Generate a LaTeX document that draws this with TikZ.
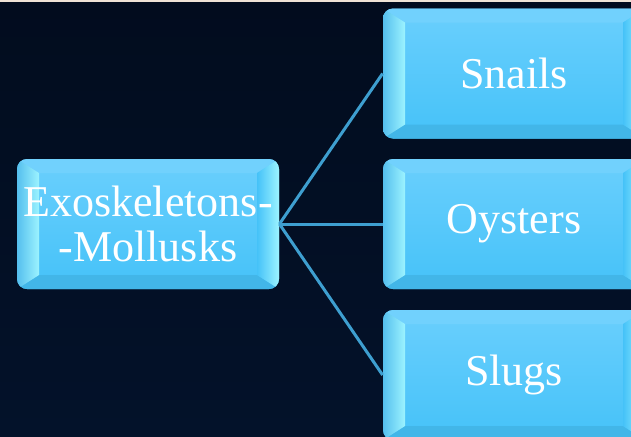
\documentclass[tikz,border=0pt]{standalone}
\usepackage{fontspec}
\setmainfont{Liberation Serif}
\usetikzlibrary{calc}
\definecolor{bgtop}{HTML}{020C1E}
\definecolor{bgbot}{HTML}{03122A}
\definecolor{topstrip}{HTML}{EFE3D6}
\definecolor{facetop}{HTML}{6ACFFD}
\definecolor{facebot}{HTML}{45C2F8}
\definecolor{rimblue}{HTML}{55BFEE}
\definecolor{bevelhi}{HTML}{9CF3FF}
\definecolor{bevellow}{HTML}{42B6E8}
\definecolor{linkblue}{HTML}{3E9FD0}
\tikzset{
  bevelbox/.style={rounded corners=5pt,minimum width=131pt,minimum height=65pt,
    inner sep=0pt,top color=facetop,bottom color=facebot,text=white,
    font=\fontsize{22}{22.5}\selectfont,align=center,
    path picture={
      \path (path picture bounding box.north west) coordinate (pnw)
            (path picture bounding box.north east) coordinate (pne)
            (path picture bounding box.south west) coordinate (psw)
            (path picture bounding box.south east) coordinate (pse);
      \fill[sharp corners,facetop!95!white] (pnw) -- (pne) -- ($(pne)+(-11pt,-7pt)$) -- ($(pnw)+(11pt,-7pt)$) -- cycle;
      \fill[sharp corners,bevellow] (psw) -- (pse) -- ($(pse)+(-11pt,7pt)$) -- ($(psw)+(11pt,7pt)$) -- cycle;
      \shade[sharp corners,left color=rimblue,right color=bevelhi] (pnw) -- ($(pnw)+(11pt,-7pt)$) -- ($(psw)+(11pt,7pt)$) -- (psw) -- cycle;
      \shade[sharp corners,left color=facebot,right color=bevelhi] (pne) -- ($(pne)+(-11pt,-7pt)$) -- ($(pse)+(-11pt,7pt)$) -- (pse) -- cycle;
    }},
  link/.style={linkblue,line width=1.5pt},
}
\begin{document}
\begin{tikzpicture}[x=0.5pt,y=-0.5pt]
  \useasboundingbox (0,0) rectangle (631,436);
  \clip (0,0) rectangle (631,436);
  % background
  \shade[top color=bgtop,bottom color=bgbot] (0,0) rectangle (631,436);
  \fill[topstrip] (0,0) rectangle (631,1.5);
  % boxes
  \node[bevelbox] (mollusks) at (148,224) {Exoskeletons-\\-Mollusks};
  \node[bevelbox] (snails) at (514,73.5) {Snails};
  \node[bevelbox] (oysters) at (514,224) {Oysters};
  \node[bevelbox] (slugs) at (514,375) {Slugs};
  % links
  \draw[link] (mollusks.east) -- (snails.west);
  \draw[link] (mollusks.east) -- (oysters.west);
  \draw[link] (mollusks.east) -- (slugs.west);
\end{tikzpicture}
\end{document}
